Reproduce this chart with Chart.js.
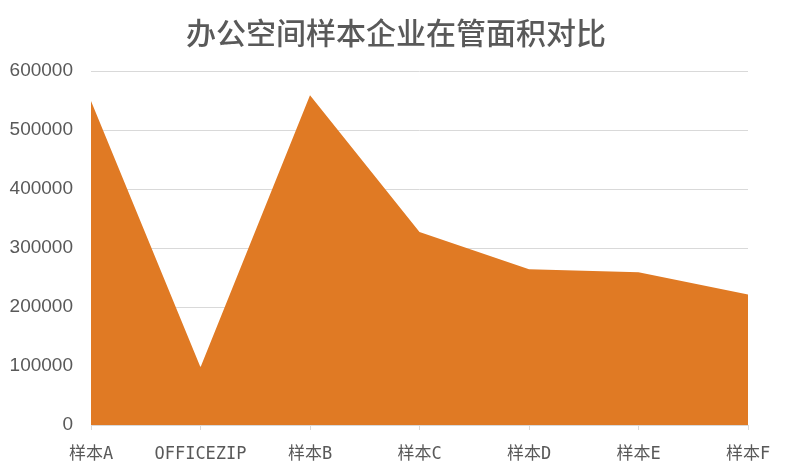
<!DOCTYPE html>
<html>
<head>
<meta charset="utf-8">
<script src="https://cdn.jsdelivr.net/npm/chart.js@4/dist/chart.umd.min.js"></script>
<style>
  html, body { margin: 0; padding: 0; background: #fff; }
  #wrap { width: 792px; height: 475px; }
</style>
</head>
<body>
<div id="wrap"><canvas id="areaChart" width="792" height="475"></canvas></div>
<script>
// data
const categories = ['样本A', 'OFFICEZIP', '样本B', '样本C', '样本D', '样本E', '样本F'];
const areaValues = [549000, 98000, 559000, 327000, 264000, 259000, 221000];
const yTicks = [0, 100000, 200000, 300000, 400000, 500000, 600000];
const chartTitle = '办公空间样本企业在管面积对比';

const ctx = document.getElementById('areaChart').getContext('2d');

// title centred on the whole canvas, not on the padded box
const centredTitle = {
    id: 'centredTitle',
    afterDraw(chart) {
        const c = chart.ctx;
        c.save();
        c.fillStyle = '#595959';
        c.font = "500 30px 'Noto Sans CJK SC', sans-serif";
        c.textAlign = 'center';
        c.textBaseline = 'middle';
        c.fillText(chartTitle, chart.width / 2, 33);
        c.restore();
    }
};

const areaChart = new Chart(ctx, {
    type: 'line',
    data: {
        labels: categories,
        datasets: [{
            label: '在管面积',
            data: areaValues,
            backgroundColor: '#E07A24',
            borderColor: '#E07A24',
            borderWidth: 0,
            pointRadius: 0,
            tension: 0,
            fill: 'origin'
        }]
    },
    options: {
        responsive: false,
        animation: false,
        layout: {
            padding: { left: 0, right: 44, top: 71, bottom: 0 }
        },
        plugins: {
            legend: { display: false },
            tooltip: { enabled: false },
            title: { display: false }
        },
        scales: {
            x: {
                offset: false,
                afterFit: function(scale) {
                    scale.height = 50;
                },
                grid: {
                    drawOnChartArea: false,
                    drawTicks: true,
                    tickLength: 5,
                    color: '#d9d9d9'
                },
                border: { display: true, color: '#d9d9d9' },
                ticks: {
                    color: '#595959',
                    padding: 14,
                    maxRotation: 0,
                    autoSkip: false,
                    font: { family: "'DejaVu Sans Mono', 'Noto Sans CJK SC', monospace", size: 17 }
                }
            },
            y: {
                min: 0,
                max: 600000,
                afterBuildTicks: function(scale) {
                    scale.ticks = yTicks.map(v => ({ value: v }));
                },
                afterFit: function(scale) {
                    scale.width = 91;
                },
                grid: {
                    color: '#d9d9d9',
                    drawTicks: false
                },
                border: { display: false },
                ticks: {
                    color: '#595959',
                    padding: 18,
                    font: { family: "'Liberation Sans', sans-serif", size: 19 },
                    callback: function(value) { return String(value); }
                }
            }
        }
    },
    plugins: [centredTitle]
});
</script>
</body>
</html>
